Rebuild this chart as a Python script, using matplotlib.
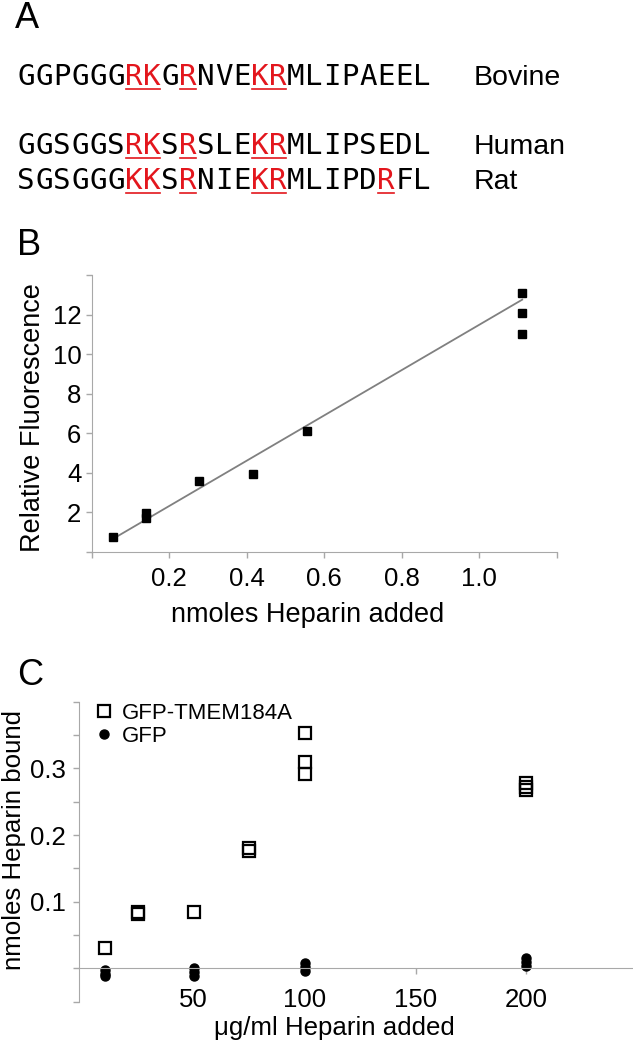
import matplotlib
matplotlib.use('Agg')
import matplotlib.pyplot as plt
from matplotlib.lines import Line2D
import numpy as np

plt.rcParams['font.family'] = ['Liberation Sans', 'DejaVu Sans']

# Panel A: sequence alignment, basic residues in red
species = ['Bovine', 'Human', 'Rat']
sequences = ['GGPGGGRKGRNVEKRMLIPAEEL',
             'GGSGGSRKSRSLEKRMLIPSEDL',
             'SGSGGGKKSRNIEKRMLIPDRFL']
# (start, end) index runs that are red and underlined
basic_runs = [[(6, 8), (9, 10), (13, 15)],
              [(6, 8), (9, 10), (13, 15)],
              [(6, 8), (9, 10), (13, 15), (20, 21)]]

# Panel B: fluorescence vs heparin
heparin_nmol = [0.0556, 0.139, 0.139, 0.278, 0.417, 0.556, 1.111, 1.111, 1.111]
rel_fluor = [0.76, 1.95, 1.70, 3.60, 3.93, 6.09, 13.08, 12.10, 11.00]
fit_slope = 11.46
fit_intercept = 0.02

# Panel C: heparin bound
tmem_x = [10, 25, 25, 50, 75, 75, 100, 100, 100, 200, 200, 200]
tmem_y = [0.030, 0.081, 0.084, 0.085, 0.176, 0.180, 0.353, 0.310, 0.292, 0.278, 0.272, 0.267]
gfp_x = [10, 10, 10, 50, 50, 50, 100, 100, 100, 200, 200, 200]
gfp_y = [-0.003, -0.008, -0.012, 0.000, -0.006, -0.011, 0.0075, 0.002, -0.004, 0.015, 0.009, 0.003]

b_xticks = [0, 0.2, 0.4, 0.6, 0.8, 1.0, 1.2]
b_xlabels = ['', '0.2', '0.4', '0.6', '0.8', '1.0', '']
b_yticks = [0, 2, 4, 6, 8, 10, 12, 14]
b_ylabels = ['', '2', '4', '6', '8', '10', '12', '']
c_xticks = [50, 100, 150, 200]
c_yticks = [-0.05, 0, 0.05, 0.1, 0.15, 0.2, 0.25, 0.3, 0.35, 0.4]
c_ylabels = ['', '', '', '0.1', '', '0.2', '', '0.3', '', '']

W, H = 633, 1045
fig = plt.figure(figsize=(W / 100, H / 100), dpi=100)


def fx(px):
    return px / W


def fy(py):
    return 1 - py / H


axis_grey = '#a8a8a8'
red = '#e3161d'

# ---- A ----
fig.text(fx(15), fy(28), 'A', fontsize=26, va='baseline', ha='left')
baselines = [85, 154.5, 189]
pitch, x0 = 18, 17
for name, seq, runs, base in zip(species, sequences, basic_runs, baselines):
    red_idx = {i for a, b in runs for i in range(a, b)}
    for i, ch in enumerate(seq):
        fig.text(fx(x0 + pitch * i + pitch / 2), fy(base), ch,
                 family='DejaVu Sans Mono', fontsize=21, ha='center', va='baseline',
                 color=red if i in red_idx else 'black')
    for a, b in runs:
        fig.add_artist(Line2D([fx(x0 + pitch * a + 1), fx(x0 + pitch * b - 1)],
                              [fy(base + 3.5), fy(base + 3.5)],
                              transform=fig.transFigure, color=red, lw=1.2))
    fig.text(fx(474), fy(base), name, fontsize=20.5, va='baseline', ha='left')

# ---- B ----
fig.text(fx(17), fy(255), 'B', fontsize=26, va='baseline', ha='left')
axB = fig.add_axes([fx(91.7), fy(551.7), (556.7 - 91.7) / W, (551.7 - 275) / H])
xf = np.array([min(heparin_nmol), max(heparin_nmol)])
axB.plot(xf, fit_slope * xf + fit_intercept, color='#808080', lw=1.3, zorder=2)
axB.plot(heparin_nmol, rel_fluor, 's', color='black', ms=6, zorder=3)
axB.set_xlim(0, 1.2)
axB.set_ylim(0, 14)
axB.set_xticks(b_xticks)
axB.set_xticklabels(b_xlabels)
axB.set_yticks(b_yticks)
axB.set_yticklabels(b_ylabels)
for s in ['top', 'right']:
    axB.spines[s].set_visible(False)
for s in ['left', 'bottom']:
    axB.spines[s].set_color(axis_grey)
axB.tick_params(axis='both', color=axis_grey, length=4.5, width=1, labelsize=18.5)
axB.tick_params(axis='x', pad=6.5)
axB.tick_params(axis='y', pad=3)
axB.set_xlabel('nmoles Heparin added', fontsize=19.5, va='baseline')
axB.xaxis.set_label_coords((307.5 - 91.7) / 465, (551.7 - 622) / 276.7)
axB.set_ylabel('Relative Fluorescence', fontsize=19.5, va='center')
axB.yaxis.set_label_coords((33 - 91.7) / 465, (551.7 - 417.5) / 276.7)

# ---- C ----
fig.text(fx(17), fy(685), 'C', fontsize=26, va='baseline', ha='left')
axC = fig.add_axes([fx(78.7), fy(1001.7), (633 - 78.7) / W, 300 / H])
axC.plot(tmem_x, tmem_y, 's', mfc='none', mec='black', mew=1.6, ms=8.3, label='GFP-TMEM184A')
axC.plot(gfp_x, gfp_y, 'o', color='black', ms=6.5, label='GFP')
axC.set_xlim(-1.8, 248)
axC.set_ylim(-0.05, 0.4)
axC.set_xticks(c_xticks)
axC.set_yticks(c_yticks)
axC.set_yticklabels(c_ylabels)
axC.spines['bottom'].set_position(('data', 0))
for s in ['top', 'right']:
    axC.spines[s].set_visible(False)
for s in ['left', 'bottom']:
    axC.spines[s].set_color(axis_grey)
axC.tick_params(axis='both', color=axis_grey, length=4.5, width=1, labelsize=18.5)
axC.tick_params(axis='x', pad=9.5)
axC.tick_params(axis='y', pad=5)
axC.set_xlabel('μg/ml Heparin added', fontsize=18.6, va='baseline')
axC.xaxis.set_label_coords((334 - 78.7) / 554.3, (1001.7 - 1035) / 300)
axC.set_ylabel('nmoles Heparin bound', fontsize=18.6, va='center')
axC.yaxis.set_label_coords((14 - 78.7) / 554.3, (1001.7 - 840) / 300)
axC.legend(loc='upper left', bbox_to_anchor=(fx(95.3), fy(703)),
           bbox_transform=fig.transFigure, frameon=False, fontsize=16,
           handlelength=0.8, handletextpad=0.4, borderpad=0, borderaxespad=0,
           labelspacing=0.1)

fig.savefig('out.png', dpi=100)
